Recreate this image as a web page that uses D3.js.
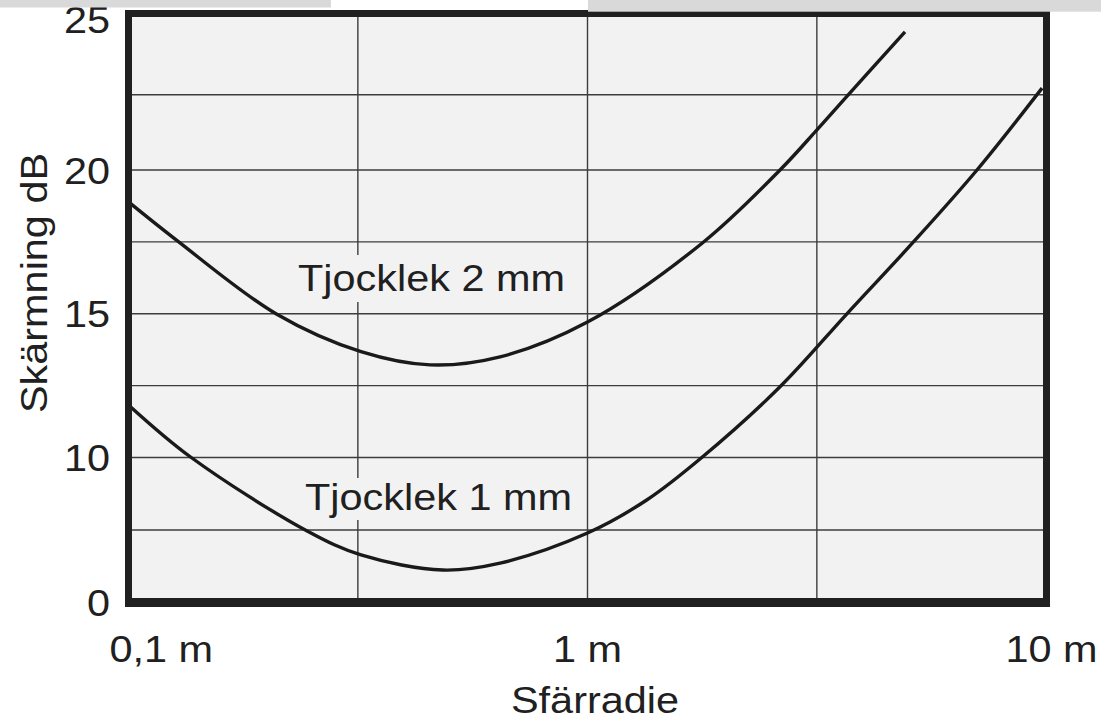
<!DOCTYPE html>
<html>
<head>
<meta charset="utf-8">
<style>
  body { margin: 0; background: #fff; }
  svg { display: block; }
  text { font-family: "Liberation Sans", Arial, sans-serif; font-size: 37px; fill: #202020; }
</style>
</head>
<body>
<div id="chart"></div>
<script src="https://cdnjs.cloudflare.com/ajax/libs/d3/7.8.5/d3.min.js"></script>
<script>
// values
var radius2mm = [0.1, 0.127, 0.210, 0.321, 0.454, 0.645, 1.0, 1.785, 2.627, 3.147, 3.694, 4.917];
var db2mm     = [18.89, 17.57, 14.99, 13.68, 13.22, 13.5, 14.71, 17.48, 20.0, 21.3, 22.49, 24.59];

var radius1mm = [0.1, 0.137, 0.245, 0.321, 0.484, 0.645, 1.0, 1.346, 1.774, 2.627, 3.670, 5.119, 7.056, 9.78];
var db1mm     = [11.83, 10.0, 4.93, 3.28, 2.24, 2.72, 4.79, 7.07, 10.0, 12.46, 14.99, 17.48, 20.0, 22.72];

var xTicks = [0.1, 1, 10];
var xTickLabels = ["0,1 m", "1 m", "10 m"];
var yTicks = [0, 10, 15, 20, 25];
var yTickLabels = ["0", "10", "15", "20", "25"];
var xGrid = [0.316, 1, 3.16];
var yGrid = [5, 10, 12.5, 15, 17.5, 20, 22.5];

var seriesNames = ["Tjocklek 2 mm", "Tjocklek 1 mm"];

var W = 1101, H = 724;
var SX = 1.12; // the scan is a bit stretched sideways

var svg = d3.select("#chart").append("svg")
    .attr("width", W)
    .attr("height", H);

// log axis for radius, the dB axis of the original is not uniform below 10
var x = d3.scaleLog().domain([0.1, 10]).range([128.5, 1046.5]);
var y = d3.scaleLinear().domain([0, 10, 20, 25.2]).range([602.5, 457.5, 170, 13.5]);

function txt(px, py, s, anchor, rot) {
  return svg.append("text")
    .attr("transform", "translate(" + px + "," + py + ")" + (rot ? " rotate(" + rot + ")" : "") + " scale(" + SX + ",1)")
    .attr("text-anchor", anchor)
    .text(s);
}

// plot background
svg.append("rect")
  .attr("x", x(0.1)).attr("y", y(25.2))
  .attr("width", x(10) - x(0.1)).attr("height", y(0) - y(25.2))
  .attr("fill", "#f2f2f2");

// grid
svg.selectAll(".gx").data(xGrid).enter().append("line")
  .attr("x1", function(d) { return x(d); }).attr("x2", function(d) { return x(d); })
  .attr("y1", y(25.2)).attr("y2", y(0))
  .attr("stroke", "#3c3c3c").attr("stroke-width", 1.4);
svg.selectAll(".gy").data(yGrid).enter().append("line")
  .attr("x1", x(0.1)).attr("x2", x(10))
  .attr("y1", function(d) { return y(d); }).attr("y2", function(d) { return y(d); })
  .attr("stroke", "#3c3c3c").attr("stroke-width", 1.4);

// curve labels sit on a background patch that hides the grid
svg.append("rect").attr("x", 296).attr("y", 255).attr("width", 272).attr("height", 47).attr("fill", "#f2f2f2");
svg.append("rect").attr("x", 303).attr("y", 478).attr("width", 272).attr("height", 42).attr("fill", "#f2f2f2");
txt(298, 291, seriesNames[0], "start");
txt(305, 510, seriesNames[1], "start");

// curves
var line = d3.line()
  .x(function(d) { return x(d[0]); })
  .y(function(d) { return y(d[1]); })
  .curve(d3.curveCatmullRom.alpha(0.5));

[[radius2mm, db2mm], [radius1mm, db1mm]].forEach(function(s) {
  var pts = s[0].map(function(r, i) { return [r, s[1][i]]; });
  svg.append("path")
    .attr("d", line(pts))
    .attr("fill", "none")
    .attr("stroke", "#1a1a1a")
    .attr("stroke-width", 3.4);
});

// frame
svg.append("rect")
  .attr("x", x(0.1)).attr("y", y(25.2))
  .attr("width", x(10) - x(0.1)).attr("height", y(0) - y(25.2))
  .attr("fill", "none").attr("stroke", "#202020").attr("stroke-width", 7);
svg.append("line")
  .attr("x1", x(0.1) - 3.5).attr("x2", x(10) + 3.5)
  .attr("y1", y(0)).attr("y2", y(0))
  .attr("stroke", "#202020").attr("stroke-width", 9);

// tick labels
yTicks.forEach(function(v, i) {
  txt(110, y(v) + 13.5, yTickLabels[i], "end");
});
var xAnchor = ["start", "middle", "end"];
var xShift = [-19, 0, 51];
xTicks.forEach(function(v, i) {
  txt(x(v) + xShift[i], 662, xTickLabels[i], xAnchor[i]);
});

// axis titles
txt(595, 713, "Sfärradie", "middle");
txt(47, 283, "Skärmning dB", "middle", -90);

// grey strips at the top edge of the scan
svg.append("rect").attr("x", 0).attr("y", 0).attr("width", 331).attr("height", 7.5).attr("fill", "#d9d9d9");
svg.append("rect").attr("x", 588).attr("y", 0).attr("width", 513).attr("height", 11.7).attr("fill", "#d9d9d9");
</script>
</body>
</html>
